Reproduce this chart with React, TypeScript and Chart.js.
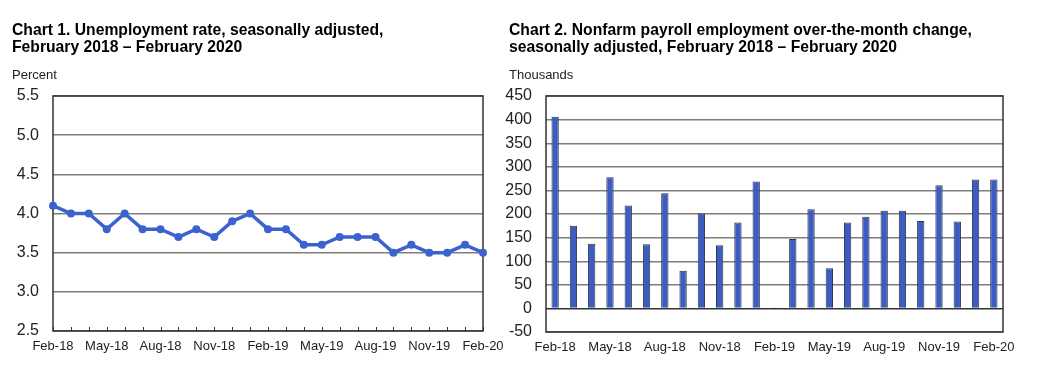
import React, { useEffect, useRef } from 'react';
import { Chart, registerables } from 'chart.js';

Chart.register(...registerables);

const months = [
  'Feb-18', 'Mar-18', 'Apr-18', 'May-18', 'Jun-18', 'Jul-18', 'Aug-18', 'Sep-18', 'Oct-18', 'Nov-18', 'Dec-18', 'Jan-19',
  'Feb-19', 'Mar-19', 'Apr-19', 'May-19', 'Jun-19', 'Jul-19', 'Aug-19', 'Sep-19', 'Oct-19', 'Nov-19', 'Dec-19', 'Jan-20', 'Feb-20',
];

const unemploymentRate = [
  4.1, 4.0, 4.0, 3.8, 4.0, 3.8, 3.8, 3.7, 3.8, 3.7, 3.9, 4.0,
  3.8, 3.8, 3.6, 3.6, 3.7, 3.7, 3.7, 3.5, 3.6, 3.5, 3.5, 3.6, 3.5,
];

const payrollChange = [
  406, 175, 137, 278, 218, 136, 244, 80, 201, 134, 182, 269,
  1, 147, 210, 85, 182, 194, 207, 207, 185, 261, 184, 273, 273,
];

const rateAxis = { min: 2.5, max: 5.5, step: 0.5 };
const payrollAxis = { min: -50, max: 450, step: 50 };

const chart1Title = ['Chart 1. Unemployment rate, seasonally adjusted,', 'February 2018 \u2013 February 2020'];
const chart2Title = ['Chart 2. Nonfarm payroll employment over-the-month change,', 'seasonally adjusted, February 2018 \u2013 February 2020'];
const chart1Unit = 'Percent';
const chart2Unit = 'Thousands';

const FONT = '"Liberation Sans", Arial, Helvetica, sans-serif';

const framePlugin = {
  id: 'frame',
  beforeDatasetsDraw(chart: any, _args: any, opts: any) {
    const { ctx, chartArea } = chart;
    ctx.save();
    if (opts && opts.innerTicks) {
      const xs = chart.scales.x;
      ctx.strokeStyle = '#333';
      ctx.lineWidth = 1;
      ctx.beginPath();
      xs.ticks.forEach((_t: any, i: number) => {
        const x = Math.round(xs.getPixelForTick(i)) + 0.5;
        ctx.moveTo(x, chartArea.bottom);
        ctx.lineTo(x, chartArea.bottom - 4);
      });
      ctx.stroke();
    }
    ctx.strokeStyle = '#333';
    ctx.lineWidth = 1.5;
    ctx.strokeRect(chartArea.left, chartArea.top, chartArea.right - chartArea.left, chartArea.bottom - chartArea.top);
    ctx.restore();
  },
};

function xTickCallback(this: any, _v: any, i: number) {
  return i % 3 === 0 ? months[i] : '';
}

function LineChart() {
  const ref = useRef<HTMLCanvasElement | null>(null);
  useEffect(() => {
    if (!ref.current) return;
    const chart = new Chart(ref.current, {
      type: 'line',
      data: {
        labels: months,
        datasets: [
          {
            data: unemploymentRate,
            borderColor: '#3b62cf',
            backgroundColor: '#3b62cf',
            borderWidth: 3.5,
            pointRadius: 4,
            pointBackgroundColor: '#3b62cf',
            pointBorderWidth: 0,
            tension: 0,
          },
        ],
      },
      options: {
        responsive: false,
        animation: false,
        layout: { padding: { top: 96, right: 32, bottom: 0, left: 0 } },
        plugins: { legend: { display: false }, tooltip: { enabled: false }, frame: { innerTicks: true } } as any,
        scales: {
          x: {
            offset: false,
            grid: { display: false, drawTicks: false },
            border: { display: false },
            ticks: {
              autoSkip: false,
              maxRotation: 0,
              minRotation: 0,
              padding: 8,
              color: '#222',
              font: { family: FONT, size: 13 },
              callback: xTickCallback,
            },
            afterFit(scale: any) {
              scale.height = 51;
            },
          },
          y: {
            min: rateAxis.min,
            max: rateAxis.max,
            grid: { color: '#7e7e7e', lineWidth: 1.4, drawTicks: false },
            border: { display: false },
            ticks: {
              stepSize: rateAxis.step,
              padding: 14,
              color: '#222',
              font: { family: FONT, size: 16 },
              callback: (v: any) => Number(v).toFixed(1),
            },
            afterFit(scale: any) {
              scale.width = 53;
            },
          },
        },
      } as any,
      plugins: [framePlugin],
    });
    return () => chart.destroy();
  }, []);
  return <canvas ref={ref} width={515} height={382} style={{ position: 'absolute', left: 0, top: 0 }} />;
}

function BarChart() {
  const ref = useRef<HTMLCanvasElement | null>(null);
  useEffect(() => {
    if (!ref.current) return;
    const chart = new Chart(ref.current, {
      type: 'bar',
      data: {
        labels: months,
        datasets: [
          {
            data: payrollChange,
            backgroundColor: '#3d5cc0',
            borderColor: '#2f3550',
            borderWidth: 1,
            categoryPercentage: 1,
            barPercentage: 0.4,
          },
        ],
      },
      options: {
        responsive: false,
        animation: false,
        layout: { padding: { top: 96, right: 44, bottom: 0, left: 0 } },
        plugins: { legend: { display: false }, tooltip: { enabled: false }, frame: { innerTicks: false } } as any,
        scales: {
          x: {
            offset: true,
            grid: { display: false, drawTicks: false },
            border: { display: false },
            ticks: {
              autoSkip: false,
              maxRotation: 0,
              minRotation: 0,
              padding: 8,
              color: '#222',
              font: { family: FONT, size: 13 },
              callback: xTickCallback,
            },
            afterFit(scale: any) {
              scale.height = 50;
            },
          },
          y: {
            min: payrollAxis.min,
            max: payrollAxis.max,
            grid: {
              color: (c: any) => (c.tick && c.tick.value === 0 ? '#333' : '#7e7e7e'),
              lineWidth: (c: any) => (c.tick && c.tick.value === 0 ? 1.5 : 1.4),
              drawTicks: false,
            },
            border: { display: false },
            ticks: {
              stepSize: payrollAxis.step,
              padding: 14,
              color: '#222',
              font: { family: FONT, size: 16 },
            },
            afterFit(scale: any) {
              scale.width = 46;
            },
          },
        },
      } as any,
      plugins: [framePlugin],
    });
    return () => chart.destroy();
  }, []);
  return <canvas ref={ref} width={547} height={382} style={{ position: 'absolute', left: 500, top: 0 }} />;
}

const titleStyle: React.CSSProperties = {
  position: 'absolute',
  top: 21,
  fontFamily: FONT,
  fontWeight: 'bold',
  fontSize: 15.7,
  lineHeight: '17px',
  color: '#000',
  whiteSpace: 'nowrap',
};

const unitStyle: React.CSSProperties = {
  position: 'absolute',
  top: 67,
  fontFamily: FONT,
  fontSize: 13,
  lineHeight: '15px',
  color: '#222',
  whiteSpace: 'nowrap',
};

export default function App() {
  return (
    <div style={{ position: 'absolute', left: 0, top: 0, width: 1047, height: 382, background: '#fff', overflow: 'hidden' }}>
      <LineChart />
      <BarChart />
      <div style={{ ...titleStyle, left: 12 }}>
        {chart1Title[0]}
        <br />
        {chart1Title[1]}
      </div>
      <div style={{ ...titleStyle, left: 509 }}>
        {chart2Title[0]}
        <br />
        {chart2Title[1]}
      </div>
      <div style={{ ...unitStyle, left: 12 }}>{chart1Unit}</div>
      <div style={{ ...unitStyle, left: 509 }}>{chart2Unit}</div>
    </div>
  );
}
